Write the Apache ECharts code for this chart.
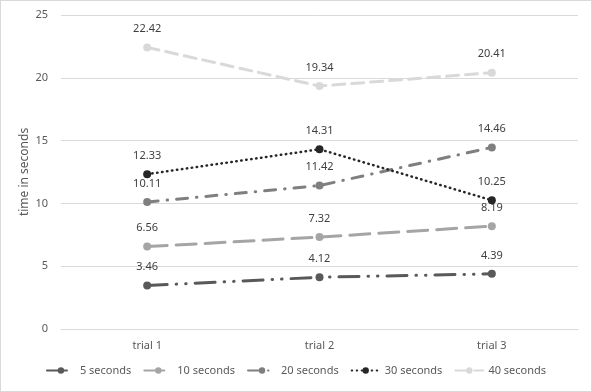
<!DOCTYPE html>
<html><head><meta charset="utf-8">
<script src="https://cdn.jsdelivr.net/npm/echarts@6/dist/echarts.min.js"></script>
<style>html,body{margin:0;padding:0;background:#fff}#c{width:590px;height:390px;border:1px solid #d9d9d9}</style>
</head><body><div id="c"></div>
<script>
const categories = ['trial 1', 'trial 2', 'trial 3'];
const seriesNames = ['5 seconds', '10 seconds', '20 seconds', '30 seconds', '40 seconds'];
const s5 = [3.46, 4.12, 4.39];
const s10 = [6.56, 7.32, 8.19];
const s20 = [10.11, 11.42, 14.46];
const s30 = [12.33, 14.31, 10.25];
const s40 = [22.42, 19.34, 20.41];
const yTicks = { min: 0, max: 25, interval: 5 };

const values = [s5, s10, s20, s30, s40];
const colors = ['#595959', '#a5a5a5', '#7f7f7f', '#262626', '#d9d9d9'];
const dashes = [[20, 9, 0.5, 9, 0.5, 9], [20, 9], [11, 9, 0.5, 9], [0.5, 4.5], [12, 7]];
const widths = [3, 3, 3, 2.5, 3];

const chart = echarts.init(document.getElementById('c'));
const font = 'Noto Sans';
chart.setOption({
  animation: false,
  textStyle: { fontFamily: font },
  grid: { left: 60, right: 13, top: 14, bottom: 62 },
  xAxis: {
    type: 'category', data: categories, boundaryGap: true,
    axisLine: { show: true, lineStyle: { color: '#d9d9d9' } },
    axisTick: { show: false },
    axisLabel: { color: '#595959', fontSize: 11, margin: 11, fontFamily: font }
  },
  yAxis: {
    type: 'value', min: yTicks.min, max: yTicks.max, interval: yTicks.interval,
    name: 'time in seconds', nameLocation: 'middle', nameGap: 30, nameRotate: 90,
    nameMoveOverlap: false,
    nameTextStyle: { color: '#595959', fontSize: 12, fontFamily: font },
    axisLine: { show: false }, axisTick: { show: false },
    axisLabel: { color: '#595959', fontSize: 11, margin: 13, fontFamily: font },
    splitLine: { lineStyle: { color: '#d9d9d9', width: 1 } }
  },
  legend: {
    bottom: 10, left: 'center', itemWidth: 28, itemHeight: 8, itemGap: 12,
    textStyle: { color: '#595959', fontSize: 11, fontFamily: font },
    data: seriesNames
  },
  series: seriesNames.map((n, i) => ({
    name: n, type: 'line', data: values[i],
    symbol: 'circle', symbolSize: 8,
    itemStyle: { color: colors[i] },
    lineStyle: { color: colors[i], width: widths[i], type: dashes[i], cap: 'round' },
    label: { show: true, position: 'top', distance: 9, color: '#404040', fontSize: 11, fontFamily: font },
    z: 2 + i
  }))
});
</script></body></html>
